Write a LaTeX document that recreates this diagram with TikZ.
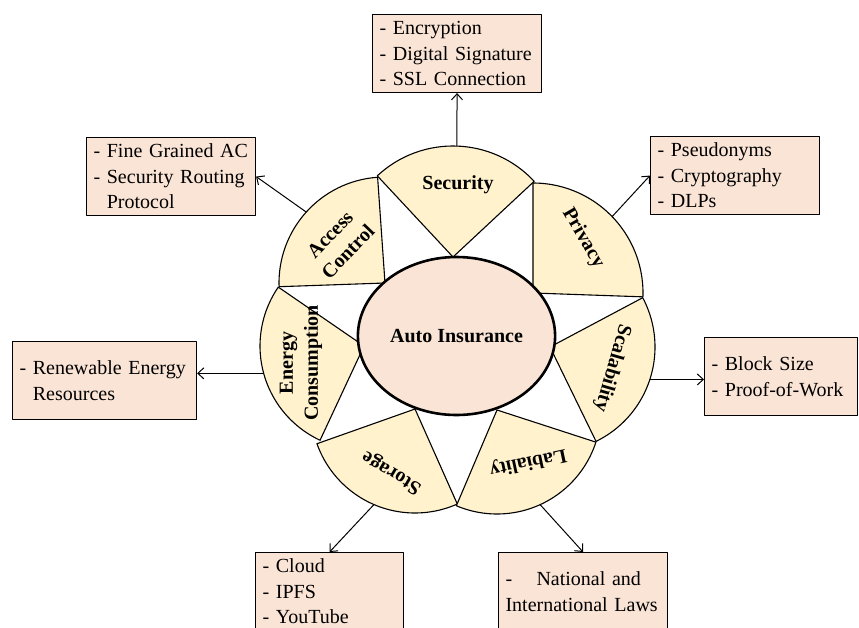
\documentclass[tikz,border=0pt]{standalone}
\usepackage{fontspec}
\setmainfont{Liberation Serif}
\usetikzlibrary{arrows.meta,shapes.geometric}
\definecolor{peach}{RGB}{250,228,214}
\definecolor{cream}{RGB}{255,242,204}
\begin{document}
\begin{tikzpicture}[x=1pt,y=1pt,line join=round,
    >={Straight Barb[length=6pt,width=11pt]},
    font=\fontsize{20}{25.5}\selectfont,
    wedge/.style={draw,fill=cream,line width=1.1pt},
    lbl/.style={font=\fontsize{20}{25}\selectfont\bfseries,align=center},
    infobox/.style={draw,fill=peach,line width=1.1pt,anchor=north west,
        align=left,inner xsep=7pt,inner ysep=2pt,minimum height=78pt,text width=#1},
    link/.style={->,line width=1pt}]
    \useasboundingbox (0,0) rectangle (859,-627);
    \clip (0,0) rectangle (859,-627);
    % wedges round the centre: name/apex x/apex y/start/end/radius
    \foreach \nm/\cx/\cy/\sa/\ea/\r in {sec/453/257/43/133/111, prv/533/293/-2/90/110,
        acc/385/283/94/182/106, en/364/346/145.5/245/104, sto/415/409/199.5/294/104,
        lab/497/410/247/342/104, sc/550/347/-64/28/105}
    {
        \draw[wedge] (\cx,-\cy) -- ++(\sa:\r) arc (\sa:\ea:\r) -- cycle;
        \path (\cx,-\cy) ++({(\sa+\ea)/2}:\r) coordinate (\nm-out);
    }
    \node[ellipse,draw,line width=2.6pt,fill=peach,minimum width=183pt,minimum height=158pt,
        font=\fontsize{20}{25}\selectfont\bfseries] (ins) at (456.5,-336) {Auto Insurance};
    % labels in the wedges
    \node[lbl] (secl) at (458,-185) {Security};
    \node[lbl,rotate=-60] (prvl) at (583,-238) {Privacy};
    \node[lbl,rotate=46] (accl) at (339,-243) {Access\\Control};
    \node[lbl,rotate=90] (enl) at (301,-363) {Energy\\Consumption};
    \node[lbl,rotate=149] (stol) at (392,-472) {Storage};
    \node[lbl,rotate=192] (labl) at (528,-462) {Labiality};
    \node[lbl,rotate=-106] (scl) at (612,-368) {Scalability};
    % boxes
    \node[infobox=155pt] (secbox) at (372,-14) {- Encryption\\- Digital Signature\\- SSL Connection};
    \node[infobox=155pt] (prvbox) at (650,-136) {- Pseudonyms\\- Cryptography\\- DLPs};
    \node[infobox=155pt] (accbox) at (86,-137) {- Fine Grained AC\\- Security Routing\\\phantom{-} Protocol};
    \node[infobox=170pt] (enbox) at (12,-341) {- Renewable Energy\\\phantom{-} Resources};
    \node[infobox=139pt] (scbox) at (704,-337) {- Block Size\\- Proof-of-Work};
    \node[infobox=134pt] (stobox) at (255,-552) {- Cloud\\- IPFS\\- YouTube};
    \node[infobox=155pt] (labbox) at (498,-552)
        {\makebox[31pt][l]{-}National and\\International Laws};
    % arrows
    \draw[link] (sec-out) -- (secbox.south);
    \draw[link] (prv-out) -- (prvbox.west);
    \draw[link] (acc-out) -- (accbox.east);
    \draw[link] (en-out) -- (en-out -| enbox.east);
    \draw[link] (sc-out) -- (sc-out -| scbox.west);
    \draw[link] (sto-out) -- (stobox.north);
    \draw[link] (lab-out) -- (labbox.north);
\end{tikzpicture}
\end{document}
